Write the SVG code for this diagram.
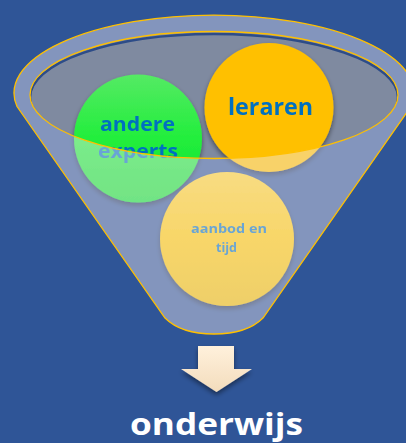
<svg xmlns="http://www.w3.org/2000/svg" width="406" height="443" viewBox="0 0 406 443">
  <style>
    .lbl { font-family: "Open Sans", "Noto Sans", "Liberation Sans", sans-serif; font-weight: 700; }
    .blue { fill: #0070C0; }
  </style>
  <defs>
    <linearGradient id="gGreen" x1="0" y1="0" x2="0" y2="1">
      <stop offset="0" stop-color="#55EA64"/>
      <stop offset="0.5" stop-color="#22EE3C"/>
      <stop offset="1" stop-color="#10E030"/>
    </linearGradient>
    <linearGradient id="gAanbod" x1="0" y1="0" x2="0" y2="1">
      <stop offset="0" stop-color="#FFD22E"/>
      <stop offset="0.5" stop-color="#FFC800"/>
      <stop offset="1" stop-color="#EDBB00"/>
    </linearGradient>
    <linearGradient id="gArrow" x1="0" y1="0" x2="0" y2="1">
      <stop offset="0" stop-color="#FFF1DC"/>
      <stop offset="1" stop-color="#F3DCBC"/>
    </linearGradient>
    <filter id="shadow" x="-20%" y="-20%" width="140%" height="150%">
      <feGaussianBlur in="SourceAlpha" stdDeviation="2.5"/>
      <feOffset dx="0" dy="3" result="b"/>
      <feComponentTransfer><feFuncA type="linear" slope="0.45"/></feComponentTransfer>
      <feMerge><feMergeNode/><feMergeNode in="SourceGraphic"/></feMerge>
    </filter>
    <clipPath id="innerClip">
      <ellipse cx="214" cy="95" rx="184" ry="63.5"/>
    </clipPath>
  </defs>

  <rect x="0" y="0" width="406" height="443" fill="#2F5597"/>

  <g id="funnel-back">
    <ellipse cx="214" cy="95" rx="184" ry="63.5" fill="#7F8AA0"/>
    <ellipse cx="214" cy="97.5" rx="184" ry="63.5" fill="none" stroke="#2D4C88" stroke-width="2.5" clip-path="url(#innerClip)"/>
  </g>

  <g id="node-andere-experts" filter="url(#shadow)">
    <circle cx="138" cy="138.5" r="64" fill="url(#gGreen)"/>
    <text class="lbl blue" x="100" y="131" font-size="19.5" textLength="75" lengthAdjust="spacingAndGlyphs">andere</text>
    <text class="lbl blue" x="98" y="158" font-size="19.5" textLength="80" lengthAdjust="spacingAndGlyphs">experts</text>
  </g>

  <g id="node-leraren" filter="url(#shadow)">
    <circle cx="269" cy="107.5" r="64.5" fill="#FFC000"/>
    <text class="lbl blue" x="228" y="115" font-size="23" textLength="85" lengthAdjust="spacingAndGlyphs">leraren</text>
  </g>

  <g id="node-aanbod" filter="url(#shadow)">
    <circle cx="227" cy="239" r="67" fill="url(#gAanbod)"/>
    <text class="lbl blue" x="229" y="233" font-size="12.5" text-anchor="middle" textLength="76" lengthAdjust="spacingAndGlyphs">aanbod en</text>
    <text class="lbl blue" x="226.5" y="252" font-size="12.5" text-anchor="middle">tijd</text>
  </g>

  <g id="funnel-front">
    <path d="M17,106.5 A200,78 0 1 1 411,106.5 L263,318 C250,331 232,334 214,334 C196,334 178,331 165,318 Z M30,95 A184,63.5 0 1 0 398,95 A184,63.5 0 1 0 30,95 Z" fill="#F0E8F0" fill-opacity="0.44" fill-rule="evenodd" stroke="none"/>
    <path d="M17,106.5 A200,78 0 1 1 411,106.5 L263,318 C250,331 232,334 214,334 C196,334 178,331 165,318 Z" fill="none" stroke="#FFC000" stroke-width="1.3"/>
    <ellipse cx="214" cy="95" rx="184" ry="63.5" fill="none" stroke="#FFC000" stroke-width="1.3"/>
  </g>

  <g id="arrow" filter="url(#shadow)">
    <path d="M198,346 L234,346 L234,369 L252,369 L216.5,392 L181,369 L198,369 Z" fill="url(#gArrow)"/>
  </g>

  <g id="node-onderwijs">
    <text class="lbl" x="216.5" y="435" font-size="31" fill="#FFFFFF" text-anchor="middle" textLength="173" lengthAdjust="spacingAndGlyphs">onderwijs</text>
  </g>
</svg>
